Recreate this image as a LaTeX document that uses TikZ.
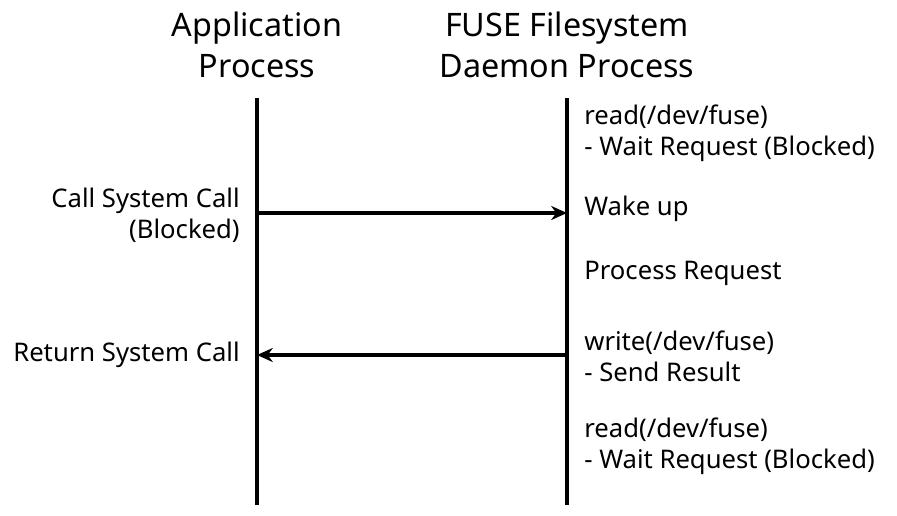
\documentclass[tikz,border=0pt]{standalone}
\usepackage{fontspec}
\setmainfont{Noto Sans}
\usetikzlibrary{positioning,arrows.meta}
\tikzset{
    lifeline/.style={line width=1.8pt},
    msg/.style={line width=1.8pt,-{Stealth[length=9pt,width=8pt]}},
    head/.style={font=\fontsize{18.4}{23}\selectfont,align=center},
    note/.style={font=\fontsize{14.6}{17.8}\selectfont,align=left,anchor=west,inner sep=0pt},
    side/.style={font=\fontsize{14.6}{17.8}\selectfont,align=right,anchor=east,inner sep=0pt}
}
\begin{document}
\begin{tikzpicture}[x=0.02cm,y=-0.02cm]
\useasboundingbox (0,0) rectangle (897,515);
% lifelines
\coordinate (appT) at (257,98);
\coordinate (appB) at (257,505);
\coordinate (fsT) at (567,98);
\coordinate (fsB) at (567,505);
\draw[lifeline] (appT) -- (appB);
\draw[lifeline] (fsT) -- (fsB);
\node[head] (app) at (257,45) {Application\\Process};
\node[head] (fs) at (567,45) {FUSE Filesystem\\Daemon Process};
% messages
\coordinate (callA) at (257,213);
\coordinate (callF) at (567,213);
\coordinate (retF) at (567,355);
\coordinate (retA) at (257,355);
\draw[msg] (callA) -- (callF);
\draw[msg] (retF) -- (retA);
% daemon side
\node[note] (rd1) at (584,133) {read(/dev/fuse)\\- Wait Request (Blocked)};
\node[note] (wake) at (584,209) {Wake up};
\node[note] (proc) at (584,273) {Process Request};
\node[note] (wr) at (584,356) {write(/dev/fuse)\\- Send Result};
\node[note] (rd2) at (584,446) {read(/dev/fuse)\\- Wait Request (Blocked)};
% application side
\node[side] (call) at (240,215) {Call System Call\\(Blocked)};
\node[side] (ret) at (240,355) {Return System Call};
\end{tikzpicture}
\end{document}
